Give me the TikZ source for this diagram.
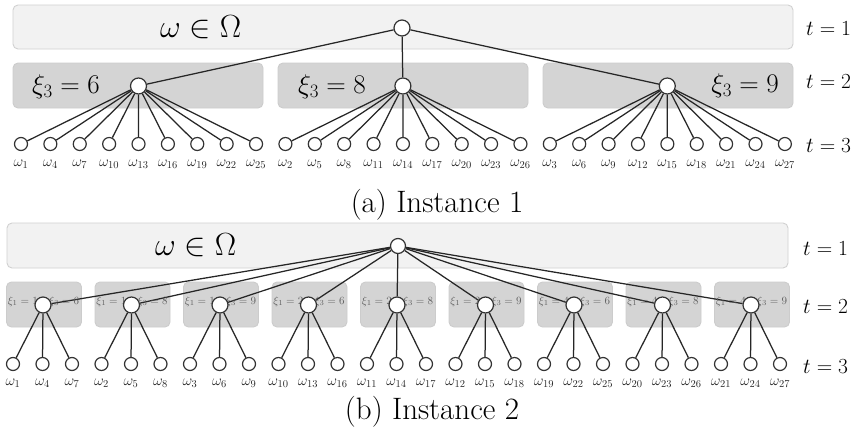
\documentclass[tikz,border=0pt]{standalone}
\usepackage{fix-cm}
\pgfdeclarelayer{bg}
\pgfdeclarelayer{edges}
\pgfsetlayers{bg,edges,main}
\tikzset{
  band1/.style={draw=black!18, fill=black!5, rounded corners=5pt, line width=0.9pt, minimum height=44pt, inner sep=0pt},
  band2/.style={draw=black!20, fill=black!17, rounded corners=5pt, line width=0.9pt, minimum height=45pt, inner sep=0pt},
  bignode/.style={circle, draw=black!80, fill=white, line width=1.2pt, minimum size=16pt, inner sep=0pt},
  leaf/.style={circle, draw=black!80, fill=white, line width=1.2pt, minimum size=13pt, inner sep=0pt},
  conn/.style={draw=black!85, line width=1.25pt},
  leaflab/.style={anchor=base, inner sep=0pt, text=black!85, font=\fontsize{15}{17}\selectfont},
  omegalab/.style={anchor=base west, inner sep=0pt, font=\fontsize{32}{38}\selectfont},
  xilab/.style={inner sep=0pt, font=\fontsize{27}{32}\selectfont},
  tlab/.style={anchor=base west, inner sep=0pt, font=\fontsize{21.5}{26}\selectfont},
  caplab/.style={inner sep=0pt, font=\fontsize{31}{36}\selectfont},
  smallxi/.style={inner sep=0pt, text=black!62, font=\fontsize{11}{13}\selectfont},
}
\begin{document}
\begin{tikzpicture}[x=1pt,y=-1pt]
\useasboundingbox (0,0) rectangle (867,437);
\begin{pgfonlayer}{bg}
  \fill[white] (0,0) rectangle (867,437);
\end{pgfonlayer}

% ---------------- Instance 1 ----------------
\begin{pgfonlayer}{bg}
  \node[band1, minimum width=780pt] (a-t1) at (403,27) {};
  \foreach \k/\cx in {1/138,2/403,3/668}
    \node[band2, minimum width=250pt] (a-t2\k) at (\cx,85.5) {};
\end{pgfonlayer}

\node[bignode] (a-r) at (402,28) {};
\foreach \k/\cx in {1/138.5,2/402.9,3/667.3}
  \node[bignode] (a-m\k) at (\cx,86) {};
\foreach \i in {0,...,26}{
  \pgfmathtruncatemacro\g{int(\i/9)}
  \pgfmathtruncatemacro\j{mod(\i,9)}
  \pgfmathtruncatemacro\n{\g+1+3*\j}
  \node[leaf] (a-l\i) at ({21+29.38*\i},144) {};
  \node[leaflab] (a-w\i) at ({21+29.38*\i},166) {$\omega_{\n}$};
}

\begin{pgfonlayer}{edges}
  \foreach \k in {1,2,3} \draw[conn] (a-r) -- (a-m\k);
  \foreach \i in {0,...,26}{
    \pgfmathtruncatemacro\g{int(\i/9)+1}
    \draw[conn] (a-m\g) -- (a-l\i);
  }
\end{pgfonlayer}

\node[omegalab] (a-om) at (160,37) {$\omega\in\Omega$};
\node[xilab, anchor=base west] (a-x1) at (32,93) {$\xi_3=6$};
\node[xilab, anchor=base west] (a-x2) at (298,93) {$\xi_3=8$};
\node[xilab, anchor=base east] (a-x3) at (779,92) {$\xi_3=9$};
\node[tlab] (a-tt1) at (806,35) {$t=1$};
\node[tlab] (a-tt2) at (806,88) {$t=2$};
\node[tlab] (a-tt3) at (806,152) {$t=3$};
\node[caplab] (a-cap) at (437,205) {(a) Instance 1};

% ---------------- Instance 2 ----------------
\begin{pgfonlayer}{bg}
  \node[band1, minimum width=781pt, minimum height=45pt] (b-t1) at (397.5,245.5) {};
  \foreach \k in {0,...,8}
    \node[band2, minimum width=75pt] (b-t2\k) at ({44+88.5*\k},304.5) {};
\end{pgfonlayer}

\node[bignode, minimum size=15pt] (b-r) at (398,246) {};
\foreach \k/\a/\c in {0/1/6,1/1/8,2/1/9,3/2/6,4/2/8,5/2/9,6/4/6,7/4/8,8/4/9}{
  \node[smallxi, anchor=base east] (b-xl\k) at ({43+88.5*\k-5},304) {$\xi_1=\a$};
  \node[smallxi, anchor=base west] (b-xr\k) at ({43+88.5*\k+6},304) {$\xi_3=\c$};
  \node[bignode] (b-m\k) at ({43+88.5*\k},305) {};
}
\foreach \i in {0,...,26}{
  \pgfmathtruncatemacro\g{int(\i/3)}
  \pgfmathtruncatemacro\j{mod(\i,3)}
  \pgfmathtruncatemacro\aa{int(\g/3)}
  \pgfmathtruncatemacro\bb{mod(\g,3)}
  \pgfmathtruncatemacro\n{9*\aa+\bb+1+3*\j}
  \node[leaf] (b-l\i) at ({13+29.5*\i},364) {};
  \node[leaflab] (b-w\i) at ({13+29.5*\i},385) {$\omega_{\n}$};
}

\begin{pgfonlayer}{edges}
  \foreach \k in {0,...,8} \draw[conn] (b-r) -- (b-m\k);
  \foreach \i in {0,...,26}{
    \pgfmathtruncatemacro\g{int(\i/3)}
    \draw[conn] (b-m\g) -- (b-l\i);
  }
\end{pgfonlayer}

\node[omegalab] (b-om) at (155,255) {$\omega\in\Omega$};
\node[tlab] (b-tt1) at (803,255) {$t=1$};
\node[tlab] (b-tt2) at (803,313) {$t=2$};
\node[tlab] (b-tt3) at (803,373) {$t=3$};
\node[caplab] (b-cap) at (432,412) {(b) Instance 2};
\end{tikzpicture}
\end{document}
